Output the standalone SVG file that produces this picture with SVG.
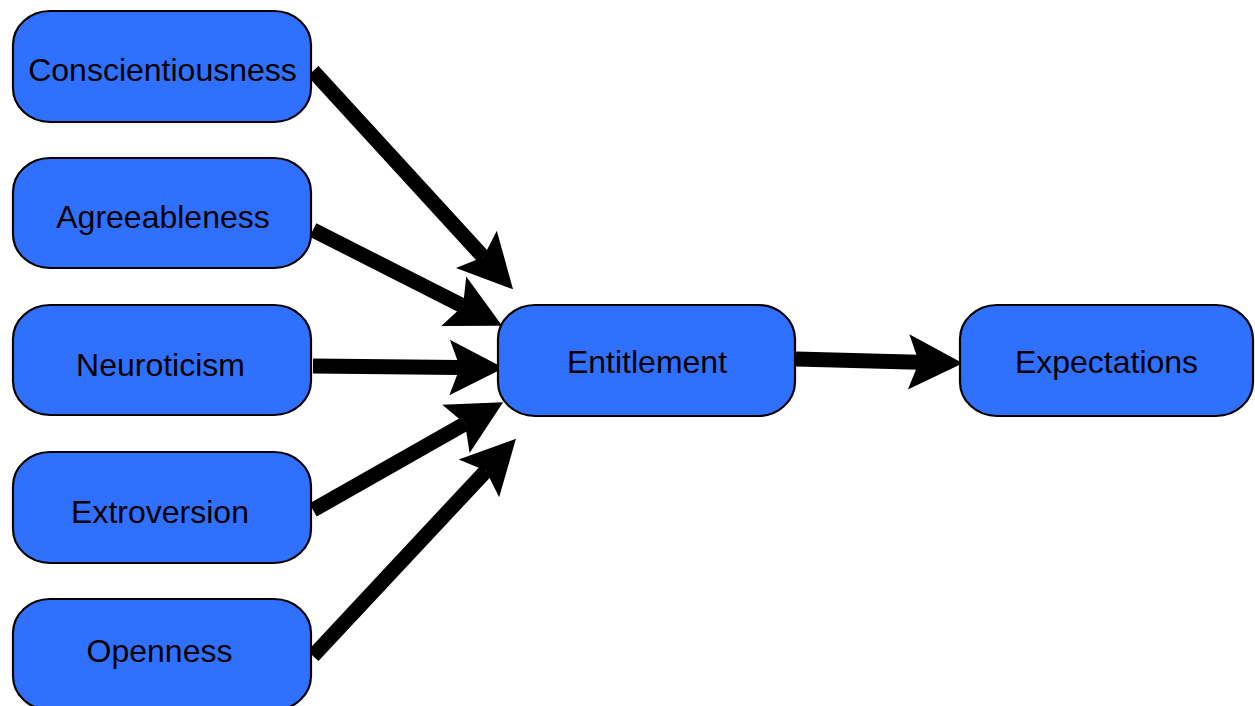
<svg xmlns="http://www.w3.org/2000/svg" width="1255" height="706" viewBox="0 0 1255 706">
<style>
.box{fill:#3070FF;stroke:#000;stroke-width:2.2}
.lbl{font-family:"Liberation Sans",Arial,sans-serif;font-size:32px;fill:#000;text-anchor:middle}
.edge{stroke:#000;stroke-width:15;fill:none;marker-end:url(#ah)}
</style>
<defs>
<marker id="ah" markerUnits="userSpaceOnUse" markerWidth="60" markerHeight="60" viewBox="-12 -26 52 52" refX="0" refY="0" orient="auto" overflow="visible">
<path d="M38,0 L-9,-24 L0,0 L-9,24 Z" fill="#000"/>
</marker>
</defs>
<rect width="1255" height="706" fill="#fff"/>
<g id="connectors">
<path class="edge" d="M313,71 L483.4,257"/>
<path class="edge" d="M313,230 L463,306"/>
<path class="edge" d="M313,366 L460,367.6"/>
<path class="edge" d="M313,510 L465,423.8"/>
<path class="edge" d="M313,656 L486,470.8"/>
<path class="edge" d="M796,359 L919,362.2"/>
</g>
<g id="conscientiousness"><rect class="box" x="13" y="11" width="298" height="111" rx="37" ry="34"/><text class="lbl" x="162.5" y="81">Conscientiousness</text></g>
<g id="agreeableness"><rect class="box" x="13" y="158" width="298" height="110" rx="37" ry="34"/><text class="lbl" x="163" y="228">Agreeableness</text></g>
<g id="neuroticism"><rect class="box" x="13" y="305" width="298" height="110" rx="37" ry="34"/><text class="lbl" x="160.5" y="376">Neuroticism</text></g>
<g id="extroversion"><rect class="box" x="13" y="452" width="298" height="111" rx="37" ry="34"/><text class="lbl" x="160" y="523">Extroversion</text></g>
<g id="openness"><rect class="box" x="13" y="599" width="298" height="111" rx="37" ry="34"/><text class="lbl" x="159.5" y="662">Openness</text></g>
<g id="entitlement"><rect class="box" x="498" y="305" width="297" height="111" rx="37" ry="34"/><text class="lbl" x="647" y="373">Entitlement</text></g>
<g id="expectations"><rect class="box" x="960" y="305" width="293" height="111" rx="37" ry="34"/><text class="lbl" x="1106.5" y="373">Expectations</text></g>
</svg>
